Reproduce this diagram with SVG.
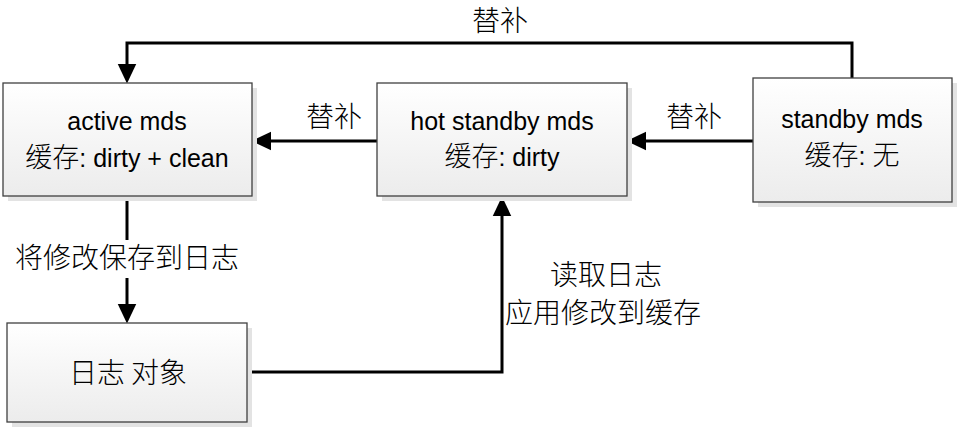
<svg xmlns="http://www.w3.org/2000/svg" width="960" height="436" viewBox="0 0 960 436">
<defs>
<linearGradient id="g" x1="0" y1="0" x2="0" y2="1">
<stop offset="0" stop-color="#ffffff"/>
<stop offset="1" stop-color="#ececec"/>
</linearGradient>
<marker id="arr" markerUnits="userSpaceOnUse" markerWidth="20" markerHeight="20" viewBox="0 0 19 18" refX="9" refY="9" orient="auto">
<path d="M0,0 L19,9 L0,18 Z" fill="#000"/>
</marker>
</defs>
<style>
.shadow{fill:#e3e3e3;}
.box{fill:url(#g);stroke:#404040;stroke-width:1.3;}
.t{font-family:"Liberation Sans","Noto Sans CJK SC",sans-serif;font-size:25px;fill:#000;text-anchor:middle;}
.z{font-family:"Noto Sans CJK SC",sans-serif;font-size:27px;font-weight:300;}
.l{font-family:"Noto Sans CJK SC",sans-serif;font-size:28px;font-weight:300;fill:#000;text-anchor:middle;}
.c{fill:none;stroke:#000;stroke-width:3;}
</style>
<rect width="960" height="436" fill="#fff"/>
<g id="connectors">
<path class="c" d="M852,78 V43 H127 V73" marker-end="url(#arr)"/>
<path class="c" d="M377,141 H262" marker-end="url(#arr)"/>
<path class="c" d="M753,141 H637" marker-end="url(#arr)"/>
<path class="c" d="M127,196 V240"/>
<path class="c" d="M127,278 V313" marker-end="url(#arr)"/>
<path class="c" d="M247,372 H502 V207" marker-end="url(#arr)"/>
<text class="l" x="500" y="31">替补</text>
<text class="l" x="334" y="127">替补</text>
<text class="l" x="694" y="127">替补</text>
<text class="l" x="127" y="268">将修改保存到日志</text>
<text class="l" x="606" y="285">读取日志</text>
<text class="l" x="603" y="323">应用修改到缓存</text>
</g>
<g id="active">
<rect class="shadow" x="8" y="88" width="249" height="113"/>
<rect class="box" x="3" y="83" width="249" height="113"/>
<text class="t" x="127" y="130">active mds</text>
<text class="t" x="127" y="167"><tspan class="z">缓存</tspan>: dirty + clean</text>
</g>
<g id="hot">
<rect class="shadow" x="382" y="88" width="250" height="113"/>
<rect class="box" x="377" y="83" width="250" height="113"/>
<text class="t" x="502" y="130">hot standby mds</text>
<text class="t" x="502" y="166"><tspan class="z">缓存</tspan>: dirty</text>
</g>
<g id="standby">
<rect class="shadow" x="758" y="83" width="199" height="124"/>
<rect class="box" x="753" y="78" width="199" height="124"/>
<text class="t" x="852" y="128">standby mds</text>
<text class="t" x="852" y="165"><tspan class="z">缓存</tspan>: <tspan class="z">无</tspan></text>
</g>
<g id="log">
<rect class="shadow" x="12" y="328" width="240" height="99"/>
<rect class="box" x="7" y="323" width="240" height="99"/>
<text class="l" x="128" y="383" font-size="27">日志 对象</text>
</g>
</svg>
